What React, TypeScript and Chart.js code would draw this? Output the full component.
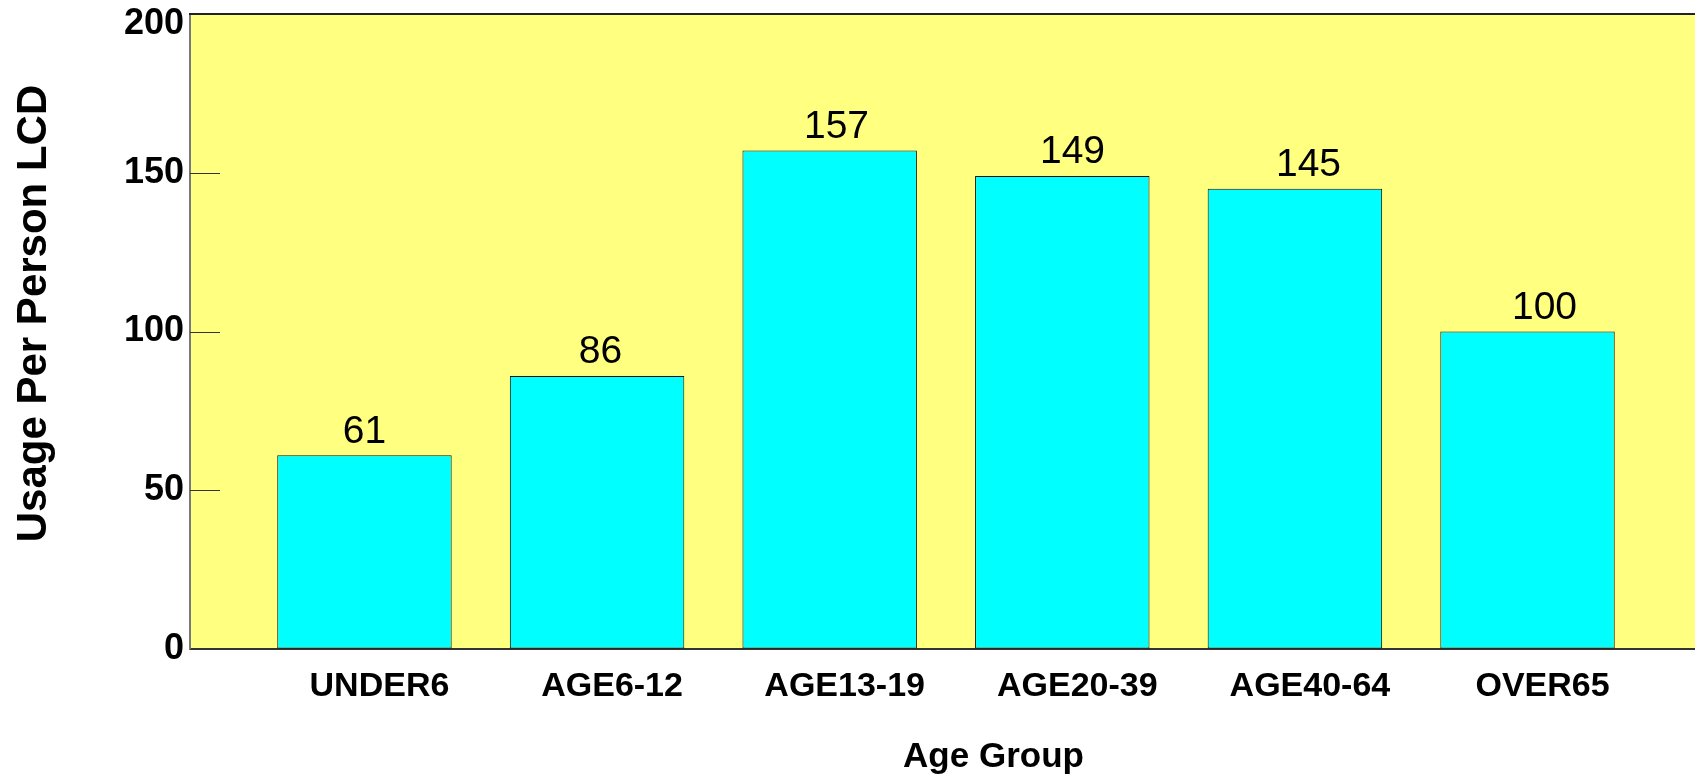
import React, { useEffect, useRef } from 'react';
import { Chart, registerables } from 'chart.js';

Chart.register(...registerables);

const categories = ['UNDER6', 'AGE6-12', 'AGE13-19', 'AGE20-39', 'AGE40-64', 'OVER65'];
const usage = [61, 86, 157, 149, 145, 100];
const yTickValues = [0, 50, 100, 150, 200];
const xTitle = 'Age Group';
const yTitle = 'Usage Per Person LCD';

const FONT = "'Liberation Sans', Arial, Helvetica, sans-serif";
const PLOT_BG = '#FFFF80';
const BAR_FILL = '#00FFFF';
const Y_MAX = 200;

const plotPlugin = {
  id: 'plotDecor',
  beforeDraw(chart: any) {
    const { ctx, chartArea } = chart;
    ctx.save();
    ctx.fillStyle = PLOT_BG;
    ctx.fillRect(chartArea.left, chartArea.top, chartArea.right - chartArea.left, chartArea.bottom - chartArea.top);
    ctx.restore();
  },
  afterDraw(chart: any) {
    const { ctx, chartArea } = chart;
    const yScale = chart.scales.y;
    ctx.save();
    // inner tick marks on the left axis
    ctx.strokeStyle = '#333333';
    ctx.lineWidth = 1;
    yScale.ticks.forEach((t: any) => {
      const y = Math.round(yScale.getPixelForValue(t.value)) + 0.5;
      ctx.beginPath();
      ctx.moveTo(chartArea.left, y);
      ctx.lineTo(chartArea.left + 30, y);
      ctx.stroke();
    });
    // top border
    ctx.strokeStyle = '#222222';
    ctx.lineWidth = 2;
    ctx.beginPath();
    ctx.moveTo(chartArea.left - 1, chartArea.top);
    ctx.lineTo(chartArea.right, chartArea.top);
    ctx.stroke();

    // value labels
    const meta = chart.getDatasetMeta(0);
    ctx.fillStyle = '#000000';
    ctx.font = `39px ${FONT}`;
    ctx.textAlign = 'center';
    ctx.textBaseline = 'alphabetic';
    meta.data.forEach((bar: any, i: number) => {
      const v = chart.data.datasets[0].data[i].y;
      ctx.fillText(String(v), bar.x + i * 3.4, bar.y - 12.5);
    });

    // axis titles
    ctx.font = `bold 35px ${FONT}`;
    ctx.textBaseline = 'middle';
    ctx.fillText(xTitle, (chartArea.left + chartArea.right) / 2 + 51, chartArea.bottom + 108);

    ctx.save();
    ctx.translate(34, (chartArea.top + chartArea.bottom) / 2 - 18);
    ctx.rotate(-Math.PI / 2);
    ctx.font = `bold 42px ${FONT}`;
    ctx.fillText(yTitle, 0, 0);
    ctx.restore();

    ctx.restore();
  },
};

export default function App() {
  const canvasRef = useRef<HTMLCanvasElement | null>(null);

  useEffect(() => {
    if (!canvasRef.current) return;
    const chart = new Chart(canvasRef.current, {
      type: 'bar',
      data: {
        datasets: [
          {
            label: 'Usage',
            data: categories.map((_, i) => ({ x: i, y: usage[i] })),
            backgroundColor: BAR_FILL,
            borderColor: '#111111',
            borderWidth: 1,
            borderSkipped: false,
            categoryPercentage: 0.75,
            barPercentage: 1.0,
          },
        ],
      },
      options: {
        animation: false,
        responsive: true,
        maintainAspectRatio: false,
        layout: { padding: 0 },
        plugins: {
          legend: { display: false },
          tooltip: { enabled: false },
        },
        scales: {
          x: {
            type: 'linear',
            min: -0.75,
            max: 5.72,
            offset: false,
            z: 1,
            grid: { display: false, drawTicks: false, offset: false },
            border: { display: true, color: '#333333', width: 2 },
            afterBuildTicks: (scale: any) => {
              scale.ticks = categories.map((_, i) => ({ value: i }));
            },
            afterFit: (scale: any) => {
              scale.height = 127;
            },
            ticks: {
              autoSkip: false,
              maxRotation: 0,
              minRotation: 0,
              padding: 17,
              labelOffset: 15,
              color: '#000000',
              font: { family: FONT, size: 34, weight: 'bold' },
              callback: (value: any) => categories[value] ?? '',
            },
          },
          y: {
            type: 'linear',
            min: 0,
            max: Y_MAX,
            grid: {
              display: true,
              drawOnChartArea: false,
              drawTicks: true,
              tickLength: 6,
              color: 'rgba(0,0,0,0)',
            },
            border: { display: true, color: '#7a7a7a', width: 2 },
            afterBuildTicks: (scale: any) => {
              scale.ticks = yTickValues.map((v) => ({ value: v }));
            },
            afterFit: (scale: any) => {
              scale.width = 190;
            },
            ticks: {
              padding: 0,
              color: '#000000',
              // the top label sits just inside the canvas, a little below its tick
              callback: (value: any) => (value === Y_MAX ? ['', '', '', String(value)] : String(value)),
              font: (ctx: any) => ({
                family: FONT,
                size: 36,
                weight: 'bold',
                lineHeight: ctx.tick && ctx.tick.value === Y_MAX ? 7 / 36 : 1.2,
              }),
            },
          },
        },
      },
      plugins: [plotPlugin],
    } as any);
    return () => chart.destroy();
  }, []);

  return (
    <div style={{ position: 'absolute', left: 0, top: 0, width: 1695, height: 776 }}>
      <canvas ref={canvasRef} />
    </div>
  );
}
